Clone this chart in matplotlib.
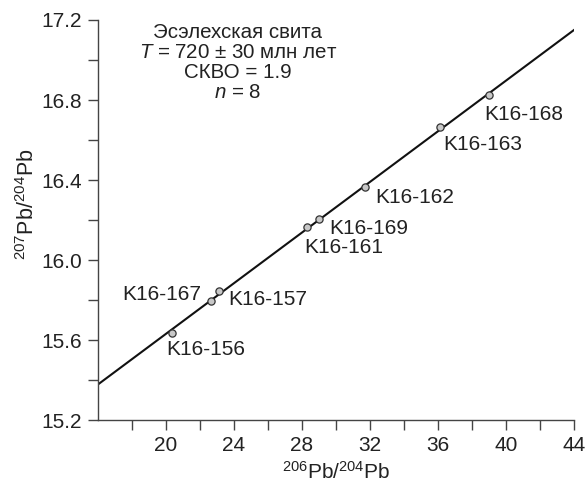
import matplotlib
matplotlib.use("Agg")
import matplotlib.pyplot as plt

plt.rcParams["font.family"] = ["Liberation Sans", "DejaVu Sans"]
plt.rcParams["mathtext.fontset"] = "custom"
plt.rcParams["mathtext.rm"] = "Liberation Sans"
plt.rcParams["mathtext.it"] = "Liberation Sans:italic"

# sample points
samples = ["K16-156", "K16-167", "K16-157", "K16-161", "K16-169",
           "K16-162", "K16-163", "K16-168"]
pb206_204 = [20.36, 22.63, 23.12, 28.29, 28.98, 31.73, 36.12, 38.98]
pb207_204 = [15.638, 15.797, 15.846, 16.164, 16.205, 16.366, 16.665, 16.824]

# isochron end points
iso_x = [16.0, 44.0]
iso_y = [15.38, 17.15]

x_major = [20, 24, 28, 32, 36, 40, 44]
x_minor = [18, 22, 26, 30, 34, 38, 42]
y_major = [15.2, 15.6, 16.0, 16.4, 16.8, 17.2]
y_minor = [15.4, 15.8, 16.2, 16.6, 17.0]

info_lines = ["Эсэлехская свита",
              r"$\mathit{T}$ = 720 ± 30 млн лет",
              "СКВО = 1.9",
              r"$\mathit{n}$ = 8"]

# label offsets (points) and alignment
offsets = [(-4.3, -12.2, "left"), (-7, 4.5, "right"), (6.3, -6.1, "left"),
           (-1.7, -14.4, "left"), (7.4, -6.5, "left"), (7.2, -7.6, "left"),
           (2.2, -12.2, "left"), (-3.4, -13.5, "left")]

fig = plt.figure(figsize=(5.88, 4.87), dpi=100)
ax = fig.add_axes([0.1667, 0.1366, 0.8095, 0.8224])

ax.plot(iso_x, iso_y, color="#111111", lw=1.5, zorder=2)
ax.plot(pb206_204, pb207_204, "o", ms=5.2, mfc="#c8c8c8", mec="#333333",
        mew=0.9, zorder=3)

for name, x, y, (dx, dy, ha) in zip(samples, pb206_204, pb207_204, offsets):
    ax.annotate(name, (x, y), xytext=(dx, dy), textcoords="offset points",
                ha=ha, va="center", fontsize=15, color="#222222")

line_y = [0.968, 0.918, 0.868, 0.818]
for txt, yy in zip(info_lines, line_y):
    ax.text(0.294, yy, txt, transform=ax.transAxes, ha="center", va="center",
            fontsize=14.8, color="#222222")

ax.set_xlim(16, 44)
ax.set_ylim(15.2, 17.2)
ax.set_xticks(x_major)
ax.set_xticks(x_minor, minor=True)
ax.set_yticks(y_major)
ax.set_yticks(y_minor, minor=True)
ax.set_yticklabels([f"{v:.1f}" for v in y_major])

for side in ["top", "right"]:
    ax.spines[side].set_visible(False)
for side in ["left", "bottom"]:
    ax.spines[side].set_color("#444444")
    ax.spines[side].set_linewidth(1.0)

ax.tick_params(which="both", direction="out", length=7.5, width=1.0,
               color="#444444", labelsize=15, labelcolor="#222222", pad=4)

ax.set_xlabel(r"$^{206}$Pb/$^{204}$Pb", fontsize=15, color="#222222")
ax.set_ylabel(r"$^{207}$Pb/$^{204}$Pb", fontsize=15.5, color="#222222")
ax.xaxis.set_label_coords(0.5, -0.1)
ax.yaxis.set_label_coords(-0.148, 0.54)
ax.yaxis.label.set_va("center")

fig.savefig("out.png", dpi=100)
